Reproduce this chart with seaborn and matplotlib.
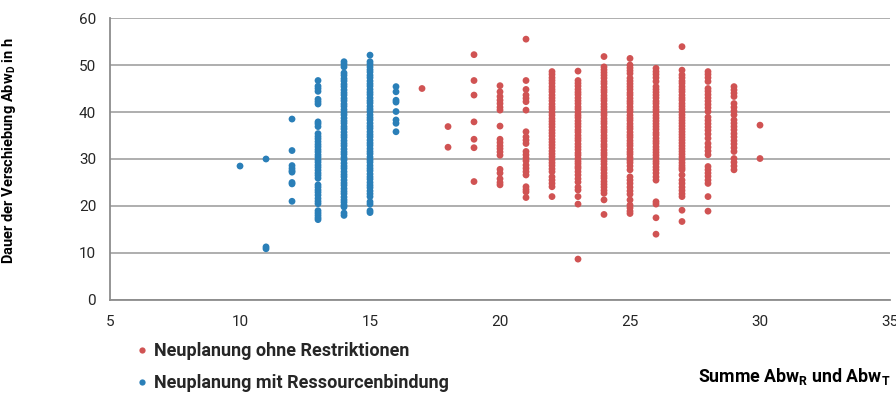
import pandas as pd
import seaborn as sns
import matplotlib.pyplot as plt
from matplotlib.lines import Line2D

# Werte je Spalte (x = Summe AbwR und AbwT, y = Dauer der Verschiebung)
# Neuplanung mit Ressourcenbindung (blau)
mit_10 = [28.5]
mit_11 = [30.0, 11.3, 10.9]
mit_12 = [38.5, 31.8, 28.6, 28.0, 27.5, 27.2, 25.0, 24.7, 21.0]
mit_13 = [46.7, 45.5, 45.0, 44.4, 42.7, 42.2, 41.7, 37.9, 37.5, 36.9, 35.4, 34.8,
          34.3, 33.7, 33.1, 32.6, 32.0, 31.5, 30.9, 30.4, 29.8, 29.3, 28.7, 28.2,
          27.6, 27.0, 26.5, 25.9, 24.5, 24.0, 23.4, 22.9, 22.3, 21.6, 21.0, 20.5,
          19.0, 18.5, 18.0, 17.5, 17.1]
mit_14 = [50.7, 50.2, 49.6, 48.3, 47.8, 47.1, 46.6, 45.9, 45.4, 44.7, 44.1, 43.6,
          42.9, 42.4, 41.7, 41.2, 40.5, 39.9, 39.4, 38.7, 38.1, 37.6, 36.9, 36.4,
          35.7, 35.1, 34.6, 33.9, 33.3, 32.8, 32.1, 31.5, 31.0, 30.3, 29.8, 29.1,
          28.5, 28.0, 27.3, 26.7, 26.2, 25.5, 24.9, 24.4, 23.7, 23.1, 22.6, 21.9,
          21.3, 20.8, 20.2, 19.8, 18.5, 18.0]
mit_15 = [52.1, 50.7, 50.2, 49.6, 49.0, 48.5, 47.8, 47.3, 46.6, 46.0, 45.5, 44.8,
          44.2, 43.7, 43.0, 42.4, 41.9, 41.2, 40.6, 40.1, 39.4, 38.8, 38.3, 37.6,
          37.0, 36.5, 35.8, 35.2, 34.7, 34.0, 33.4, 32.9, 32.2, 31.6, 31.1, 30.4,
          29.8, 29.3, 28.6, 28.0, 27.5, 26.8, 26.2, 25.7, 25.0, 24.4, 23.9, 23.2,
          22.6, 22.0, 20.9, 20.4, 19.0, 18.6]
mit_16 = [45.4, 44.3, 42.5, 42.1, 40.1, 38.3, 37.6, 35.8]

# Neuplanung ohne Restriktionen (rot)
ohne_17 = [45.0]
ohne_18 = [36.9, 32.5]
ohne_19 = [52.2, 46.7, 43.6, 37.9, 34.2, 32.4, 25.2]
ohne_20 = [45.6, 44.3, 43.3, 42.5, 41.8, 41.0, 40.4, 37.0, 34.2, 33.5, 32.8, 32.2,
           31.5, 30.8, 27.8, 27.0, 25.8, 25.0, 24.5]
ohne_21 = [55.5, 46.7, 44.8, 43.6, 42.9, 42.2, 40.4, 35.8, 34.7, 34.0, 33.3, 31.6,
           30.9, 30.2, 29.6, 28.7, 28.0, 27.3, 26.6, 24.1, 23.5, 23.0, 21.8]
ohne_22 = [48.6, 48.0, 47.3, 46.7, 46.1, 45.4, 44.8, 44.3, 43.6, 43.0, 42.4, 41.7,
           41.1, 40.6, 39.9, 39.3, 38.6, 38.0, 37.4, 36.8, 36.1, 35.5, 34.9, 34.2,
           33.6, 33.0, 32.4, 31.7, 31.1, 30.5, 29.8, 29.2, 28.6, 27.9, 27.3, 26.2,
           25.5, 24.8, 24.1, 22.0]
ohne_23 = [48.7, 46.7, 46.1, 45.5, 44.8, 44.2, 43.7, 43.0, 42.4, 41.8, 41.1, 40.6,
           39.9, 39.3, 38.8, 38.1, 37.5, 36.9, 36.2, 35.7, 35.0, 34.4, 33.9, 33.2,
           32.6, 32.0, 31.3, 30.8, 30.1, 29.5, 29.0, 28.4, 28.0, 27.3, 26.6, 25.8,
           25.1, 24.0, 23.4, 22.0, 20.4, 8.7]
ohne_24 = [51.8, 49.6, 49.0, 48.4, 47.8, 47.2, 46.5, 46.0, 45.3, 44.7, 44.2, 43.5,
           42.9, 42.4, 41.7, 41.1, 40.5, 39.8, 39.3, 38.6, 38.0, 37.5, 36.8, 36.2,
           35.7, 35.0, 34.4, 33.8, 33.1, 32.6, 31.9, 31.3, 30.8, 30.1, 29.5, 28.9,
           28.2, 27.7, 27.0, 26.4, 25.9, 25.2, 24.6, 24.0, 23.3, 22.7, 21.3, 18.2]
ohne_25 = [51.4, 50.0, 49.4, 48.8, 48.2, 47.2, 46.6, 46.0, 45.4, 44.8, 44.1, 43.6,
           42.9, 42.3, 41.8, 41.1, 40.5, 40.0, 39.3, 38.7, 38.2, 37.5, 36.9, 36.4,
           35.7, 35.1, 34.6, 33.9, 33.3, 32.8, 32.1, 31.5, 31.0, 30.3, 29.7, 29.2,
           28.5, 27.7, 26.2, 25.5, 24.8, 24.0, 23.2, 22.5, 21.3, 20.2, 19.6, 18.9,
           18.4]
ohne_26 = [49.3, 48.6, 48.0, 47.3, 46.5, 45.4, 44.8, 44.2, 43.6, 43.0, 42.3, 41.8,
           41.1, 40.5, 40.0, 39.3, 38.7, 38.1, 37.5, 36.9, 36.3, 35.6, 35.1, 34.4,
           33.8, 33.3, 32.6, 32.0, 31.4, 30.8, 30.2, 29.5, 29.0, 28.3, 27.7, 27.0,
           26.2, 25.5, 20.9, 20.4, 17.5, 14.0]
ohne_27 = [53.9, 48.9, 47.9, 47.3, 46.6, 46.1, 45.4, 44.8, 44.3, 43.6, 43.0, 42.5,
           41.8, 41.2, 40.6, 40.0, 39.4, 38.8, 38.2, 37.6, 37.0, 36.4, 35.8, 35.2,
           34.6, 34.0, 33.4, 32.8, 32.2, 31.6, 31.0, 30.4, 29.8, 29.2, 28.6, 28.1,
           27.7, 26.6, 25.5, 24.8, 24.0, 23.3, 22.6, 22.0, 19.1, 16.7]
ohne_28 = [48.6, 48.0, 47.3, 46.5, 45.0, 44.4, 43.7, 43.0, 42.3, 41.6, 40.9, 40.1,
           38.9, 38.2, 37.5, 36.8, 36.1, 35.3, 34.4, 33.3, 32.5, 31.7, 30.9, 28.4,
           27.7, 27.0, 26.3, 25.5, 24.8, 22.0, 18.9]
ohne_29 = [45.4, 44.7, 44.0, 43.3, 41.8, 41.0, 40.2, 39.4, 38.3, 37.6, 36.9, 36.2,
           35.4, 34.7, 33.9, 33.2, 32.4, 31.6, 30.1, 29.3, 28.5, 27.7]
ohne_30 = [37.2, 30.1]

label_ohne = "Neuplanung ohne Restriktionen"
label_mit = "Neuplanung mit Ressourcenbindung"
farbe_ohne = "#D05353"
farbe_mit = "#2A7FB8"

mit = {10: mit_10, 11: mit_11, 12: mit_12, 13: mit_13, 14: mit_14, 15: mit_15, 16: mit_16}
ohne = {17: ohne_17, 18: ohne_18, 19: ohne_19, 20: ohne_20, 21: ohne_21, 22: ohne_22,
        23: ohne_23, 24: ohne_24, 25: ohne_25, 26: ohne_26, 27: ohne_27, 28: ohne_28,
        29: ohne_29, 30: ohne_30}

rows = []
for x, ys in ohne.items():
    rows += [(x, y, label_ohne) for y in ys]
for x, ys in mit.items():
    rows += [(x, y, label_mit) for y in ys]
df = pd.DataFrame(rows, columns=["summe", "dauer", "serie"])

sns.set_style("white")
plt.rcParams["font.family"] = ["Roboto", "DejaVu Sans"]
plt.rcParams["mathtext.fontset"] = "custom"
plt.rcParams["mathtext.bf"] = "Roboto:bold"
plt.rcParams["mathtext.rm"] = "Roboto"

fig = plt.figure(figsize=(8.96, 3.94), dpi=100)
ax = fig.add_axes([0.1228, 0.2386, 0.8705, 0.7157])

sns.scatterplot(data=df, x="summe", y="dauer", hue="serie",
                hue_order=[label_ohne, label_mit], palette=[farbe_ohne, farbe_mit],
                s=24, linewidth=0, legend=False, ax=ax, zorder=3)

ax.set_xlim(5, 35)
ax.set_ylim(0, 60)
ax.set_xticks(range(5, 36, 5))
ax.set_yticks(range(0, 61, 10))
ax.grid(axis="y", color="#A8A8A8", linewidth=1.3)
ax.set_axisbelow(True)
for side in ["top", "right"]:
    ax.spines[side].set_visible(False)
for side in ["left", "bottom"]:
    ax.spines[side].set_color("#8C8C8C")
    ax.spines[side].set_linewidth(1.3)
ax.tick_params(axis="both", which="both", direction="out", length=4, width=1.3,
               color="#8C8C8C", labelsize=11, labelcolor="#262626")
ax.tick_params(axis="x", pad=7)
ax.tick_params(axis="y", pad=6)

ax.set_ylabel(r"Dauer der Verschiebung Abw$_\mathbf{D}$ in h", fontsize=10.5,
              fontweight="bold", color="black")
ax.yaxis.set_label_coords(-0.118, 0.53)
ax.set_xlabel(r"Summe Abw$_\mathbf{R}$ und Abw$_\mathbf{T}$", fontsize=12.8,
              fontweight="bold", color="black", ha="right", va="center")
ax.xaxis.set_label_coords(1.0, -0.27)

handles = [Line2D([], [], marker="o", linestyle="", markersize=4.5,
                  markerfacecolor=farbe_ohne, markeredgewidth=0),
           Line2D([], [], marker="o", linestyle="", markersize=4.5,
                  markerfacecolor=farbe_mit, markeredgewidth=0)]
leg = fig.legend(handles, [label_ohne, label_mit], loc="center left",
                 bbox_to_anchor=(0.142, 0.068), frameon=False,
                 prop={"size": 13, "weight": "bold"}, handlelength=0.6,
                 handletextpad=0.4, labelspacing=0.75, borderpad=0)

fig.savefig("out.png", dpi=100)
